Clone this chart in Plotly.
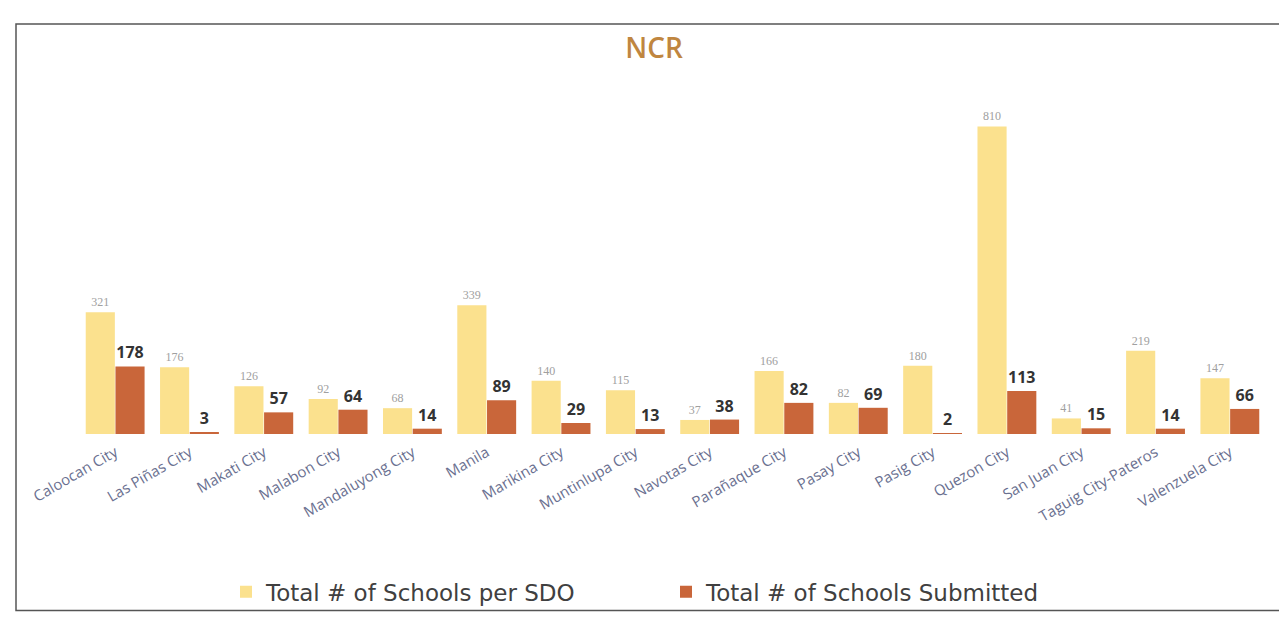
import plotly.graph_objects as go

# DATA
cities = ['Caloocan City', 'Las Piñas City', 'Makati City', 'Malabon City', 'Mandaluyong City',
          'Manila', 'Marikina City', 'Muntinlupa City', 'Navotas City', 'Parañaque City',
          'Pasay City', 'Pasig City', 'Quezon City', 'San Juan City', 'Taguig City-Pateros',
          'Valenzuela City']
schools_per_sdo = [321, 176, 126, 92, 68, 339, 140, 115, 37, 166, 82, 180, 810, 41, 219, 147]
schools_submitted = [178, 3, 57, 64, 14, 89, 29, 13, 38, 82, 69, 2, 113, 15, 14, 66]

W, H = 1287, 617
ML, MR, MT, MB = 70, 28, 90, 186

fig = go.Figure()

fig.add_trace(go.Bar(
    x=cities, y=schools_per_sdo, name='Total # of Schools per SDO',
    marker=dict(color='#FBE18E', line=dict(width=0)),
    text=schools_per_sdo, textposition='outside',
    textfont=dict(family='Liberation Serif', size=12, color='#a0a0a0'),
    cliponaxis=False))

fig.add_trace(go.Bar(
    x=cities, y=schools_submitted, name='Total # of Schools Submitted',
    marker=dict(color='#C9663A', line=dict(width=0)),
    text=schools_submitted, textposition='outside',
    textfont=dict(family='Open Sans', size=16, color='#333333', weight='bold'),
    cliponaxis=False))


# outer frame, converted from pixel positions to paper coords
def px_x(p):
    return (p - ML) / (W - ML - MR)


def px_y(p):
    return (H - MB - p) / (H - MT - MB)


fig.add_shape(type='rect', xref='paper', yref='paper',
              x0=px_x(8), x1=px_x(1280), y0=px_y(610), y1=px_y(15),
              line=dict(color='#555555', width=1.5), layer='below')

fig.update_layout(
    width=W, height=H,
    margin=dict(l=ML, r=MR, t=MT, b=MB),
    paper_bgcolor='white', plot_bgcolor='white',
    title=dict(text='NCR', x=0.502, xanchor='center', y=0.935, yanchor='middle',
               font=dict(family='Open Sans', size=28, color='#C08640', weight=600)),
    barmode='group', bargap=0.2, bargroupgap=0.02,
    font=dict(family='Open Sans'),
    xaxis=dict(tickangle=-30, tickfont=dict(size=15, color='#6a7090'),
               ticklabelstandoff=6,
               showline=False, ticks='', showgrid=False),
    yaxis=dict(range=[0, 885], visible=False),
    legend=dict(orientation='h', x=px_x(218), xanchor='left', y=-0.47, yanchor='middle',
                font=dict(family='DejaVu Sans', size=23, color='#404040'), itemwidth=30,
                entrywidth=395, bgcolor='rgba(0,0,0,0)',
                traceorder='normal'),
    showlegend=True,
)

fig.write_html('out.html')
